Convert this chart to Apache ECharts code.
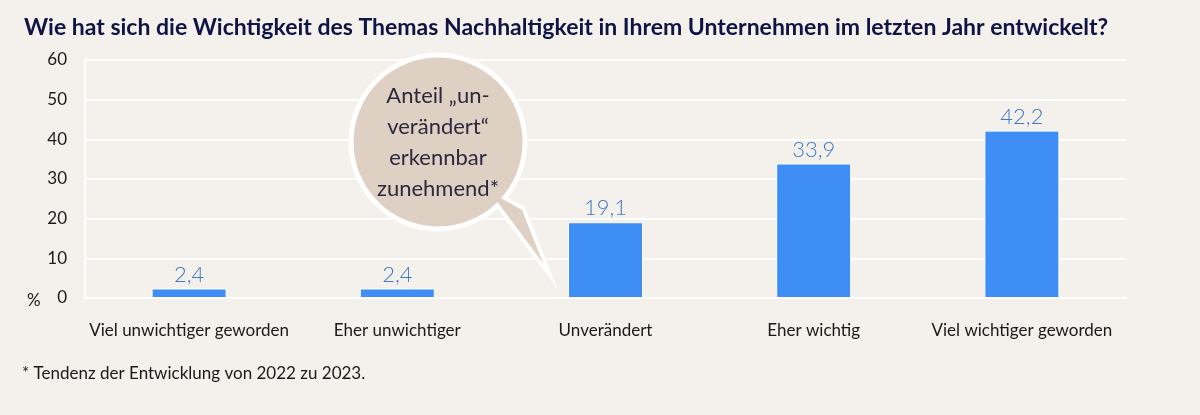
<!DOCTYPE html>
<html><head><meta charset="utf-8">
<script src="https://cdn.jsdelivr.net/npm/echarts@6/dist/echarts.min.js"></script>
<style>html,body{margin:0;padding:0;background:#f4f0eb;}#c{width:1200px;height:415px;}</style>
</head><body><div id="c"></div>
<script>
const categories = ['Viel unwichtiger geworden', 'Eher unwichtiger', 'Unverändert', 'Eher wichtig', 'Viel wichtiger geworden'];
const values = [2.4, 2.4, 19.1, 33.9, 42.2];
const yTicks = [0, 10, 20, 30, 40, 50, 60];
const titleText = 'Wie hat sich die Wichtigkeit des Themas Nachhaltigkeit in Ihrem Unternehmen im letzten Jahr entwickelt?';
const footnote = '* Tendenz der Entwicklung von 2022 zu 2023.';
const bubbleText = 'Anteil „un-\nverändert“\nerkennbar\nzunehmend*';

const chart = echarts.init(document.getElementById('c'));
const font = 'Lato, "Open Sans", sans-serif';
chart.setOption({
  backgroundColor: '#f4f0eb',
  animation: false,
  title: {
    text: titleText, left: 19, top: 11,
    textStyle: { fontFamily: font, fontSize: 23, fontWeight: 'bold', color: '#0f1444' }
  },
  grid: { left: 85, right: 74, top: 60, bottom: 117, containLabel: false },
  xAxis: {
    type: 'category', data: categories,
    axisLine: { show: true, lineStyle: { color: '#ffffff', width: 2 } },
    axisTick: { show: false },
    axisLabel: { interval: 0, fontFamily: font, fontSize: 17, color: '#1a1a1a', margin: 24 }
  },
  yAxis: {
    type: 'value', min: yTicks[0], max: yTicks[yTicks.length - 1], interval: 10,
    axisLine: { show: true, lineStyle: { color: '#ffffff', width: 2 } },
    axisTick: { show: false },
    splitLine: { lineStyle: { color: '#ffffff', width: 2 } },
    axisLabel: { fontFamily: font, fontSize: 17, color: '#1a1a1a', margin: 18, padding: [3, 0, 0, 0] }
  },
  series: [{
    type: 'bar', data: values, barWidth: 75,
    itemStyle: { color: '#3f8ef5', borderColor: '#ffffff', borderWidth: 1 },
    label: {
      show: true, position: 'top', distance: 3,
      fontFamily: font, fontSize: 22, fontWeight: 300, color: '#3f78c4',
      formatter: p => String(p.value).replace('.', ',')
    }
  }],
  graphic: [
    { type: 'text', left: 27, top: 292, style: { text: '%', fontFamily: font, fontSize: 17, fill: '#1a1a1a' } },
    { type: 'text', left: 22, top: 365, style: { text: footnote, fontFamily: font, fontSize: 17, fill: '#1a1a1a' } },
    { type: 'polygon', shape: { points: [[490, 192], [522, 210], [543, 263]] },
      style: { fill: '#dfd0c4', stroke: '#ffffff', lineWidth: 8, lineJoin: 'miter' }, z: 10 },
    { type: 'circle', shape: { cx: 438, cy: 142, r: 87 },
      style: { fill: '#dfd0c4', stroke: '#ffffff', lineWidth: 5 }, z: 10 },
    { type: 'polygon', shape: { points: [[490, 192], [522, 210], [543, 263]] },
      style: { fill: '#dfd0c4' }, z: 11 },
    { type: 'text', x: 438, y: 142, z: 12,
      style: { text: bubbleText, fontFamily: font, fontSize: 22, fill: '#2a2a3e', align: 'center', verticalAlign: 'middle', lineHeight: 31 } }
  ]
});
</script></body></html>
